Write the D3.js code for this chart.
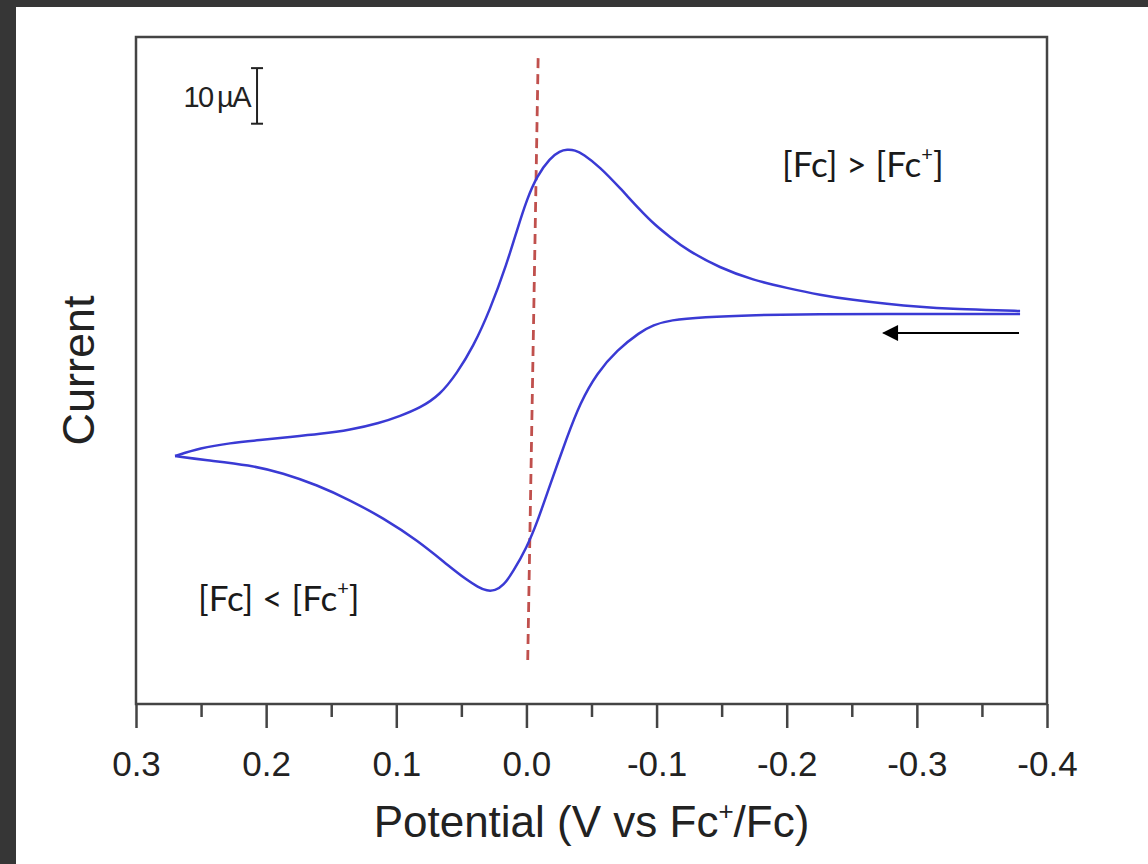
<!DOCTYPE html>
<html lang="en">
<head>
<meta charset="UTF-8">
<title>Cyclic voltammogram - ferrocene</title>
<script src="https://cdn.jsdelivr.net/npm/d3@7"></script>
<style>
  body { margin: 0; background: #363636; }
  svg { display: block; }
  .axis .tick text { font-family: "Liberation Sans", Arial, sans-serif; font-size: 35px; fill: #222; }
  .label { font-family: "Liberation Sans", Arial, sans-serif; fill: #222; }
  .note { font-family: Lato, "Open Sans", sans-serif; font-size: 35px; fill: #1a1a1a; }
</style>
</head>
<body>
<script>
// potential in V vs Fc+/Fc, current in µA (zero = flat baseline at the right)
const lowerE = [0.2700, 0.2470, 0.2124, 0.1870, 0.1609, 0.1356, 0.1102, 0.0841, 0.0587, 0.0457, 0.0372, 0.0303, 0.0241, 0.0180, 0.0103, -0.0004, -0.0081, -0.0181, -0.0312, -0.0412, -0.0542, -0.0696, -0.0873, -0.0973, -0.1103, -0.1357, -0.1741, -0.2256, -0.2771, -0.3278, -0.3793];
const lowerI = [-25.39, -26.11, -27.01, -28.45, -30.60, -33.30, -36.54, -40.50, -45.36, -47.70, -48.96, -49.68, -49.59, -48.78, -46.26, -41.76, -37.44, -30.60, -21.97, -15.85, -10.45, -6.32, -3.08, -1.82, -0.92, -0.38, -0.02, 0.16, 0.16, 0.16, 0.16];

const upperE = [0.2700, 0.2508, 0.2278, 0.2047, 0.1817, 0.1586, 0.1356, 0.1125, 0.0971, 0.0818, 0.0664, 0.0533, 0.0410, 0.0280, 0.0149, 0.0072, -0.0004, -0.0081, -0.0181, -0.0258, -0.0312, -0.0373, -0.0435, -0.0565, -0.0719, -0.0873, -0.0988, -0.1103, -0.1234, -0.1487, -0.1741, -0.2002, -0.2256, -0.2509, -0.2771, -0.3024, -0.3278, -0.3539, -0.3793];
const upperI = [-25.39, -23.95, -23.05, -22.51, -21.97, -21.43, -20.71, -19.45, -18.19, -16.75, -14.41, -10.45, -5.78, 0.88, 9.34, 15.28, 20.85, 24.99, 28.23, 29.49, 29.76, 29.67, 28.95, 26.61, 22.83, 18.87, 16.17, 14.02, 11.68, 8.44, 6.28, 4.84, 3.58, 2.68, 1.96, 1.42, 1.06, 0.88, 0.70];

const xTicks = [0.3, 0.2, 0.1, 0.0, -0.1, -0.2, -0.3, -0.4];
const xTickLabels = ["0.3", "0.2", "0.1", "0.0", "-0.1", "-0.2", "-0.3", "-0.4"];
const xMinorTicks = [0.25, 0.15, 0.05, -0.05, -0.15, -0.25, -0.35];

// E1/2 guide (red dashed), scan direction arrow, 10 µA scale bar
const halfWaveE = [-0.009, -0.001];
const halfWaveI = [46.2, -62.1];
const arrowE = [-0.3785, -0.2745];
const arrowI = -3.26;
const scaleBarE = 0.207;
const scaleBarTop = 44.4;
const scaleBarLen = 10;

const W = 1148, H = 864;
const svg = d3.select("body").append("svg")
    .attr("width", W)
    .attr("height", H);

// white page on the dark background
svg.append("rect")
    .attr("x", 16).attr("y", 7)
    .attr("width", W - 16).attr("height", H - 7)
    .attr("fill", "#fff");

const x = d3.scaleLinear().domain([0.3, -0.4]).range([136, 1047]);
const y = d3.scaleLinear().domain([-70, 50]).range([704, 37]);

// frame
svg.append("rect")
    .attr("x", x(0.3)).attr("y", y(50))
    .attr("width", x(-0.4) - x(0.3)).attr("height", y(-70) - y(50))
    .attr("fill", "none")
    .attr("stroke", "#444")
    .attr("stroke-width", 2.5);

// x axis: major + minor ticks, outward
const xAxis = svg.append("g")
    .attr("class", "axis")
    .attr("transform", "translate(0," + y(-70) + ")")
    .call(d3.axisBottom(x)
        .tickValues(xTicks)
        .tickSize(24)
        .tickPadding(23)
        .tickFormat((d, i) => xTickLabels[i]));
xAxis.select(".domain").remove();

const xMinor = svg.append("g")
    .attr("class", "axis")
    .attr("transform", "translate(0," + y(-70) + ")")
    .call(d3.axisBottom(x)
        .tickValues(xMinorTicks)
        .tickSize(13)
        .tickFormat(""));
xMinor.select(".domain").remove();

svg.selectAll(".axis .tick line")
    .attr("stroke", "#444")
    .attr("stroke-width", 2.5);

// axis titles
const xTitle = svg.append("text")
    .attr("class", "label")
    .attr("x", (x(0.3) + x(-0.4)) / 2)
    .attr("y", 837)
    .attr("text-anchor", "middle")
    .style("font-size", "44px");
xTitle.append("tspan").text("Potential (V vs Fc");
xTitle.append("tspan").attr("dy", -17).style("font-size", "26px").text("+");
xTitle.append("tspan").attr("dy", 17).text("/Fc)");

svg.append("text")
    .attr("class", "label")
    .attr("transform", "translate(94," + ((y(50) + y(-70)) / 2) + ") rotate(-90)")
    .attr("text-anchor", "middle")
    .style("font-size", "45px")
    .text("Current");

// E1/2 dashed line
svg.append("line")
    .attr("x1", x(halfWaveE[0])).attr("y1", y(halfWaveI[0]))
    .attr("x2", x(halfWaveE[1])).attr("y2", y(halfWaveI[1]))
    .attr("stroke", "#c0504d")
    .attr("stroke-width", 2.8)
    .attr("stroke-dasharray", "10,6");

// voltammogram: two branches meeting at the switching potential
const line = d3.line()
    .x(d => x(d[0]))
    .y(d => y(d[1]))
    .curve(d3.curveBasis);

[[lowerE, lowerI], [upperE, upperI]].forEach(([es, is]) => {
  svg.append("path")
      .datum(es.map((e, i) => [e, is[i]]))
      .attr("d", line)
      .attr("fill", "none")
      .attr("stroke", "#3a3ad4")
      .attr("stroke-width", 2.5)
      .attr("stroke-linejoin", "round");
});

// scan direction arrow
svg.append("defs").append("marker")
    .attr("id", "head")
    .attr("viewBox", "0 0 10 10")
    .attr("refX", 9).attr("refY", 5)
    .attr("markerUnits", "userSpaceOnUse")
    .attr("markerWidth", 21).attr("markerHeight", 16)
    .attr("orient", "auto")
  .append("path")
    .attr("d", "M0,0 L10,5 L0,10 Z")
    .attr("fill", "#000");

svg.append("line")
    .attr("x1", x(arrowE[0])).attr("y1", y(arrowI))
    .attr("x2", x(arrowE[1])).attr("y2", y(arrowI))
    .attr("stroke", "#000")
    .attr("stroke-width", 2)
    .attr("marker-end", "url(#head)");

// 10 µA scale bar
const sb = svg.append("g").attr("stroke", "#222").attr("stroke-width", 2);
sb.append("line")
    .attr("x1", x(scaleBarE)).attr("x2", x(scaleBarE))
    .attr("y1", y(scaleBarTop)).attr("y2", y(scaleBarTop - scaleBarLen));
[scaleBarTop, scaleBarTop - scaleBarLen].forEach(v => {
  sb.append("line")
      .attr("x1", x(scaleBarE) - 6).attr("x2", x(scaleBarE) + 6)
      .attr("y1", y(v)).attr("y2", y(v));
});
svg.append("text")
    .attr("class", "label")
    .attr("x", x(scaleBarE) - 7)
    .attr("y", 107)
    .attr("text-anchor", "end")
    .style("font-size", "29px")
    .style("letter-spacing", "-1.5px")
    .text("10\u2009µA");

// concentration notes
function note(e, i, rel) {
  const t = svg.append("text")
      .attr("class", "note")
      .attr("x", x(e)).attr("y", y(i));
  t.append("tspan").text("[Fc] " + rel + " [Fc");
  t.append("tspan").attr("dy", -16).style("font-size", "20px").text("+");
  t.append("tspan").attr("dy", 16).text("]");
}
note(-0.1964, 24.81, ">");
note(0.2524, -53.27, "<");
</script>
</body>
</html>
